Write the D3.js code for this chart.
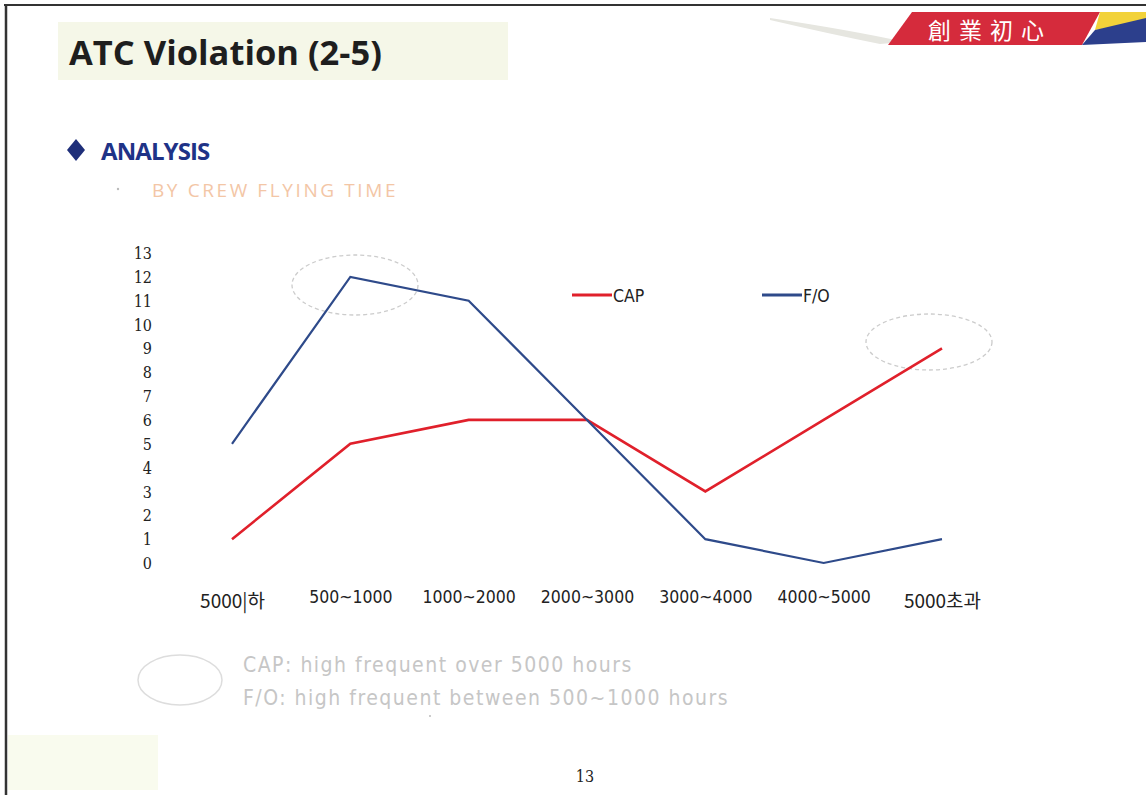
<!DOCTYPE html>
<html><head><meta charset="utf-8">
<script src="https://cdn.jsdelivr.net/npm/d3@7/dist/d3.min.js"></script>
<style>html,body{margin:0;padding:0;background:#fff;}svg{display:block;}</style>
</head><body>
<svg id="chart" width="1146" height="795"></svg>
<script>
const categories = ["5000|하", "500~1000", "1000~2000", "2000~3000", "3000~4000", "4000~5000", "5000초과"];
const capValues = [1, 5, 6, 6, 3, 6, 9];
const foValues = [5, 12, 11, 6, 1, 0, 1];
const yTicks = [0,1,2,3,4,5,6,7,8,9,10,11,12,13];
const seriesNames = ["CAP", "F/O"];
const notes = ["CAP: high frequent over 5000 hours", "F/O: high frequent between 500~1000 hours"];

const svg = d3.select("#chart");
const W = 1146, H = 795;

// slide frame
svg.append("rect").attr("x",0).attr("y",0).attr("width",W).attr("height",H).attr("fill","#fff");
svg.append("line").attr("x1",4).attr("x2",W).attr("y1",5).attr("y2",5).attr("stroke","#333").attr("stroke-width",2);
svg.append("line").attr("x1",6).attr("x2",6).attr("y1",5).attr("y2",H).attr("stroke","#333").attr("stroke-width",2.5);

// title band
svg.append("rect").attr("x",58).attr("y",22).attr("width",450).attr("height",58).attr("fill","#f5f7e8");
svg.append("text").attr("x",69).attr("y",65).attr("font-family","Open Sans, sans-serif").attr("font-weight",700)
  .attr("font-size",34.5).attr("fill","#1e1e1e").attr("letter-spacing",0).text("ATC Violation (2-5)");

// logo swoosh
svg.append("path").attr("d","M770,18 Q850,30 905,42 L880,44 Q830,34 770,20 Z").attr("fill","#e6e6e0");
svg.append("path").attr("d","M912,12 L1100,12 L1082,45 L888,45 Z").attr("fill","#d52b3c");
svg.append("path").attr("d","M1100,12 L1146,12 L1146,22 L1095,30 Z").attr("fill","#f2d23a");
svg.append("path").attr("d","M1095,30 L1146,18 L1146,42 L1082,45 Z").attr("fill","#2c3f8c");
svg.append("text").attr("x",990).attr("y",39).attr("text-anchor","middle").attr("font-family","Noto Sans CJK TC, sans-serif")
  .attr("font-size",23).attr("fill","#fff").attr("letter-spacing",8).text("創業初心");

// heading
svg.append("path").attr("d","M76,139 L85,150 L76,161 L67,150 Z").attr("fill","#1f2f7a");
svg.append("text").attr("x",101).attr("y",160).attr("font-family","Open Sans, sans-serif").attr("font-weight",700)
  .attr("font-size",24).attr("fill","#1f3387").attr("letter-spacing",-0.9).text("ANALYSIS");
svg.append("circle").attr("cx",118).attr("cy",189).attr("r",1.2).attr("fill","#bbb");
svg.append("text").attr("x",152).attr("y",197).attr("font-family","Open Sans, sans-serif")
  .attr("font-size",19).attr("fill","#f3c6a6").attr("letter-spacing",2.6).text("BY CREW FLYING TIME");

// scales
const x = d3.scalePoint().domain(categories).range([232, 942]);
const y = d3.scaleLinear().domain([0, 13]).range([563, 253]);

// y axis (labels only)
const yAxis = d3.axisLeft(y).tickValues(yTicks).tickSize(0).tickPadding(0).tickFormat(d3.format("d"));
const gy = svg.append("g").attr("transform","translate(152,0)").call(yAxis);
gy.select(".domain").remove();
gy.selectAll("text").attr("font-family","DejaVu Serif Condensed, DejaVu Serif, serif").attr("font-size",16).attr("fill","#222").attr("dy","0.35em");

// x axis (labels only)
const isEdge = (i)=> i===0 || i===categories.length-1;
const xAxis = d3.axisBottom(x).tickSize(0).tickPadding(0);
const gx = svg.append("g").attr("transform","translate(0,587)").call(xAxis);
gx.select(".domain").remove();
gx.selectAll("text").attr("fill","#222")
  .attr("dy", (d,i)=> isEdge(i) ? "1.1em" : "0.9em")
  .attr("font-family", (d,i)=> isEdge(i) ? "Noto Sans CJK KR, sans-serif" : "DejaVu Sans Condensed, sans-serif")
  .attr("font-size", (d,i)=> isEdge(i) ? 19 : 17.5);

// highlight ellipses
svg.append("ellipse").attr("cx",355).attr("cy",285).attr("rx",63).attr("ry",30)
  .attr("fill","none").attr("stroke","#ccc").attr("stroke-width",1.3).attr("stroke-dasharray","4,3");
svg.append("ellipse").attr("cx",929).attr("cy",342).attr("rx",63).attr("ry",28)
  .attr("fill","none").attr("stroke","#ccc").attr("stroke-width",1.3).attr("stroke-dasharray","4,3");

// lines
const line = d3.line().x((d,i)=>x(categories[i])).y(d=>y(d));
svg.append("path").datum(capValues).attr("d",line).attr("fill","none").attr("stroke","#e0202b").attr("stroke-width",2.6);
svg.append("path").datum(foValues).attr("d",line).attr("fill","none").attr("stroke","#2e4a8a").attr("stroke-width",2.2);

// legend
const legend = [{name:seriesNames[0], color:"#e0202b", x:572},{name:seriesNames[1], color:"#2e4a8a", x:762}];
legend.forEach(l=>{
  svg.append("line").attr("x1",l.x).attr("x2",l.x+40).attr("y1",295).attr("y2",295).attr("stroke",l.color).attr("stroke-width",3);
  svg.append("text").attr("x",l.x+41).attr("y",302).attr("font-family","DejaVu Sans Condensed, sans-serif").attr("font-size",17.5)
    .attr("fill","#222").text(l.name);
});

// notes
svg.append("ellipse").attr("cx",180).attr("cy",680).attr("rx",42).attr("ry",25)
  .attr("fill","none").attr("stroke","#ddd").attr("stroke-width",1.5);
notes.forEach((t,i)=>{
  svg.append("text").attr("x",243).attr("y",672+i*33).attr("font-family","DejaVu Sans Condensed, sans-serif")
    .attr("font-size",21).attr("letter-spacing",1.5).attr("fill","#c6c6c6").text(t);
});
svg.append("circle").attr("cx",430).attr("cy",716).attr("r",1).attr("fill","#bbb");

// footer
svg.append("rect").attr("x",8).attr("y",735).attr("width",150).attr("height",55).attr("fill","#f9fbee");
svg.append("text").attr("x",585).attr("y",782).attr("text-anchor","middle").attr("font-family","DejaVu Serif Condensed, serif")
  .attr("font-size",16).attr("fill","#222").text("13");
</script>
</body></html>
